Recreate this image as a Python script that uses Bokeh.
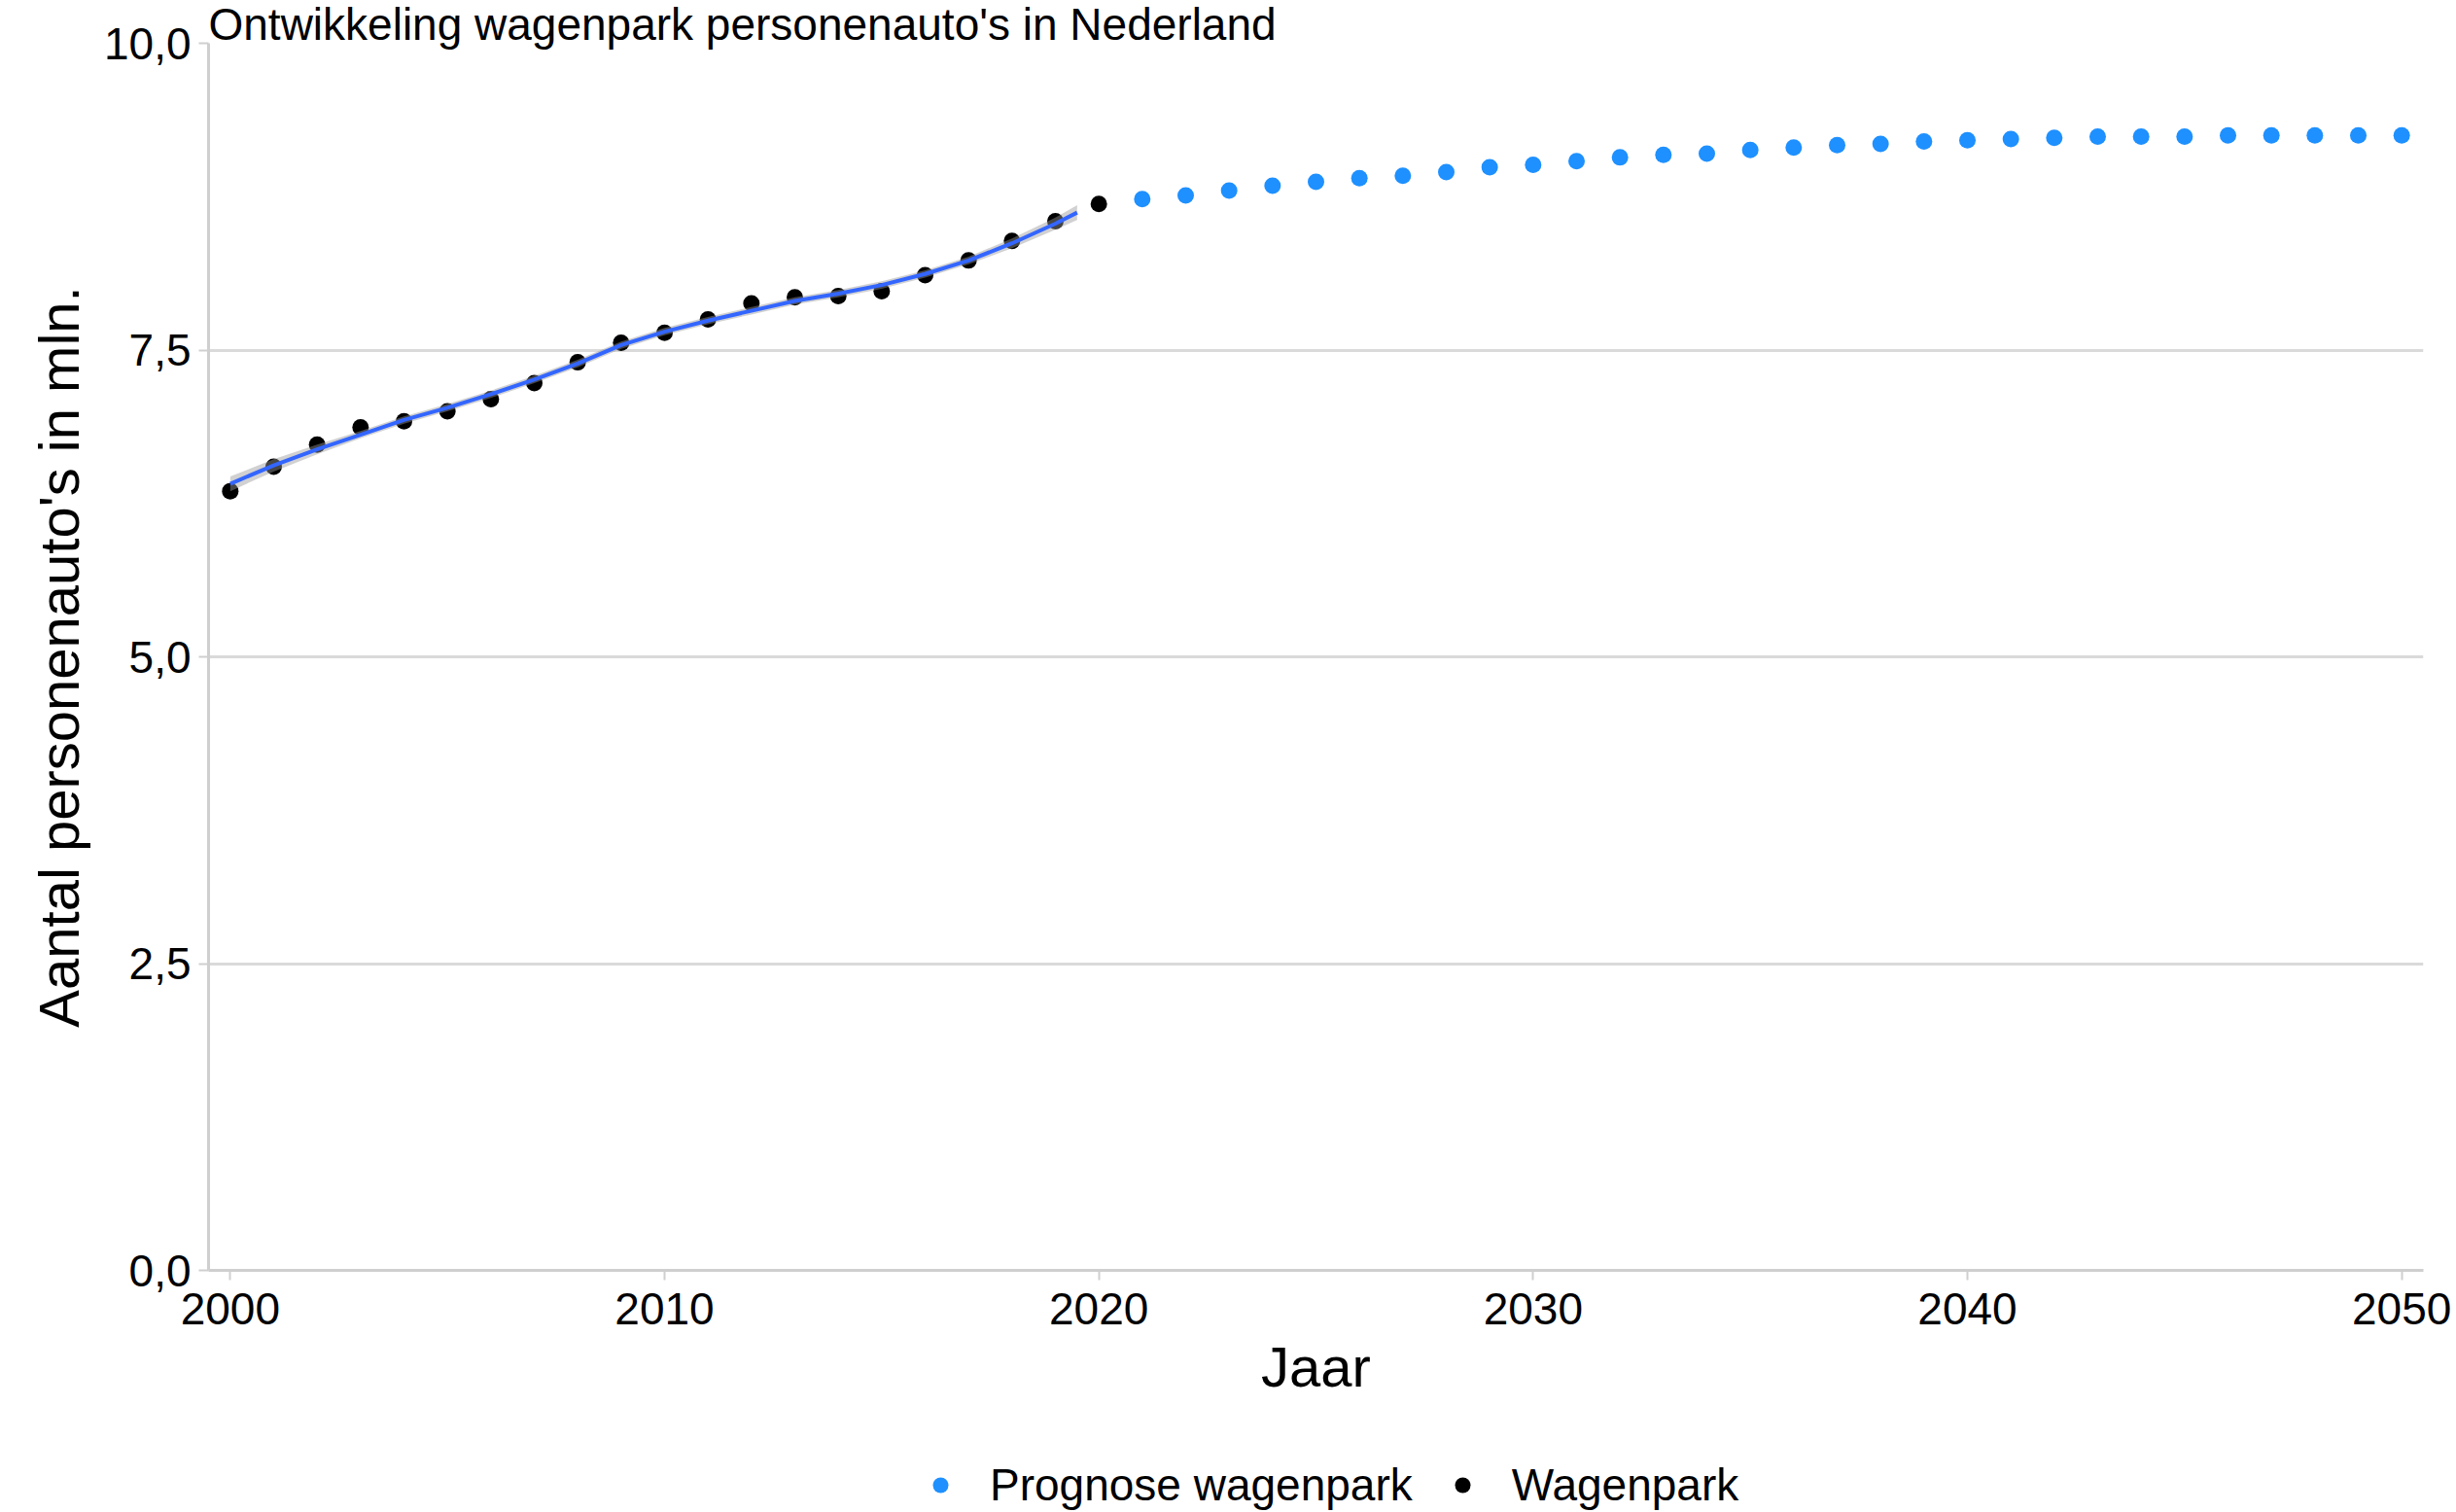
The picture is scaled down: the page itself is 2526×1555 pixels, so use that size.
from bokeh.plotting import figure
from bokeh.layouts import column
from bokeh.models import FixedTicker, Legend, LegendItem, Range1d, ColumnDataSource
from bokeh.embed import file_html
from bokeh.resources import INLINE

# ---------------- data ----------------
title_text = "Ontwikkeling wagenpark personenauto's in Nederland"
x_label = "Jaar"
y_label = "Aantal personenauto's in mln."

years_hist = [2000, 2001, 2002, 2003, 2004, 2005, 2006, 2007, 2008, 2009, 2010,
              2011, 2012, 2013, 2014, 2015, 2016, 2017, 2018, 2019, 2020]
wagenpark = [6.35, 6.55, 6.73, 6.87, 6.92, 7.00, 7.10, 7.23, 7.40, 7.56, 7.64,
             7.75, 7.88, 7.93, 7.94, 7.98, 8.11, 8.23, 8.39, 8.55, 8.69]

years_prog = [2021, 2022, 2023, 2024, 2025, 2026, 2027, 2028, 2029, 2030,
              2031, 2032, 2033, 2034, 2035, 2036, 2037, 2038, 2039, 2040,
              2041, 2042, 2043, 2044, 2045, 2046, 2047, 2048, 2049, 2050]
prognose = [8.73, 8.76, 8.80, 8.84, 8.87, 8.90, 8.92, 8.95, 8.99, 9.01,
            9.04, 9.07, 9.09, 9.10, 9.13, 9.15, 9.17, 9.18, 9.20, 9.21,
            9.22, 9.23, 9.24, 9.24, 9.24, 9.25, 9.25, 9.25, 9.25, 9.25]

# smoothed trend (loess-like), with its grey band
smooth_years = [2000, 2001, 2002, 2003, 2004, 2005, 2006, 2007, 2008, 2009, 2010,
                2011, 2012, 2013, 2014, 2015, 2016, 2017, 2018, 2019, 2019.5]
smooth_vals = [6.41, 6.56, 6.69, 6.81, 6.93, 7.03, 7.14, 7.26, 7.39, 7.54, 7.65,
               7.74, 7.82, 7.90, 7.96, 8.03, 8.12, 8.23, 8.37, 8.53, 8.62]
smooth_lower = [6.35, 6.51, 6.65, 6.78, 6.90, 7.00, 7.11, 7.23, 7.36, 7.51, 7.62,
                7.71, 7.79, 7.87, 7.93, 8.00, 8.09, 8.20, 8.33, 8.48, 8.56]
smooth_upper = [6.47, 6.61, 6.73, 6.84, 6.96, 7.06, 7.17, 7.29, 7.42, 7.57, 7.68,
                7.77, 7.85, 7.93, 7.99, 8.06, 8.15, 8.26, 8.41, 8.58, 8.68]

x_ticks = [2000, 2010, 2020, 2030, 2040, 2050]
y_ticks = [0, 2.5, 5, 7.5, 10]
y_tick_labels = ["0,0", "2,5", "5,0", "7,5", "10,0"]

legend_labels = ["Prognose wagenpark", "Wagenpark"]

# ---------------- styles ----------------
FONT = "Liberation Sans"
BLUE = "#1E90FF"
GRID = "#dadada"
AXIS = "#cfcfcf"
W = 2526
H_MAIN = 1499
H_LEG = 56

p = figure(width=W, height=H_MAIN, output_backend="svg", toolbar_location=None,
           title=title_text,
           x_range=Range1d(1999.5, 2050.5), y_range=Range1d(0, 10),
           min_border_left=214, min_border_right=34, min_border_top=44,
           min_border_bottom=H_MAIN - 1306)
p.outline_line_color = None
p.background_fill_color = "white"
p.border_fill_color = "white"

p.title.text_font = FONT
p.title.text_font_size = "46px"
p.title.text_font_style = "normal"
p.title.text_color = "black"
p.title.align = "left"
p.title.standoff = -12
p.title.offset = 0

src_hist = ColumnDataSource(dict(x=years_hist, y=wagenpark))
src_prog = ColumnDataSource(dict(x=years_prog, y=prognose))
src_s = ColumnDataSource(dict(x=smooth_years, y=smooth_vals, lo=smooth_lower, hi=smooth_upper))

p.scatter("x", "y", source=src_prog, size=17, color=BLUE, line_color=None)
p.scatter("x", "y", source=src_hist, size=17, color="black", line_color=None)
p.varea(x="x", y1="lo", y2="hi", source=src_s, fill_color="#999999", fill_alpha=0.45)
p.line("x", "y", source=src_s, line_color="#3366FF", line_width=4)

# axes
p.xaxis.ticker = FixedTicker(ticks=x_ticks)
p.yaxis.ticker = FixedTicker(ticks=y_ticks)
p.yaxis.major_label_overrides = dict(zip(y_ticks, y_tick_labels))
p.xaxis.axis_label = x_label
p.yaxis.axis_label = y_label

for ax in (p.xaxis, p.yaxis):
    ax.axis_line_color = AXIS
    ax.axis_line_width = 3
    ax.major_tick_line_color = AXIS
    ax.major_tick_line_width = 2
    ax.major_tick_out = 10
    ax.major_tick_in = 0
    ax.minor_tick_line_color = None
    ax.major_label_text_font = FONT
    ax.major_label_text_font_size = "46px"
    ax.major_label_text_color = "black"
    ax.axis_label_text_font = FONT
    ax.axis_label_text_font_size = "58px"
    ax.axis_label_text_font_style = "normal"
    ax.axis_label_text_color = "black"

p.xaxis.major_label_standoff = 13
p.xaxis.axis_label_standoff = 8
p.yaxis.major_label_standoff = 8
p.yaxis.axis_label_standoff = 11

p.xgrid.grid_line_color = None
p.ygrid.grid_line_color = GRID
p.ygrid.grid_line_width = 3

# ---------------- legend strip below the chart ----------------
pl = figure(width=W, height=H_LEG, output_backend="svg", toolbar_location=None,
            x_range=Range1d(0, 1), y_range=Range1d(0, 1),
            x_axis_type=None, y_axis_type=None, min_border=0)
pl.outline_line_color = None
pl.xgrid.grid_line_color = None
pl.ygrid.grid_line_color = None
pl.background_fill_color = "white"
pl.border_fill_color = "white"
# same series drawn in the legend strip (outside its visible range) so that the
# legend can show their markers
lr_prog = pl.scatter("x", "y", source=src_prog, size=17, color=BLUE, line_color=None)
lr_hist = pl.scatter("x", "y", source=src_hist, size=17, color="black", line_color=None)

legend = Legend(items=[LegendItem(label=legend_labels[0], renderers=[lr_prog]),
                       LegendItem(label=legend_labels[1], renderers=[lr_hist])],
                orientation="horizontal", location=(733, 1),
                glyph_width=40, glyph_height=40, label_standoff=31, spacing=31,
                padding=0, margin=0, border_line_color=None,
                background_fill_alpha=0,
                label_text_font=FONT, label_text_font_size="46px",
                label_text_color="black")
pl.add_layout(legend)

open("out.html", "w").write(file_html(column(p, pl, spacing=0), INLINE))
